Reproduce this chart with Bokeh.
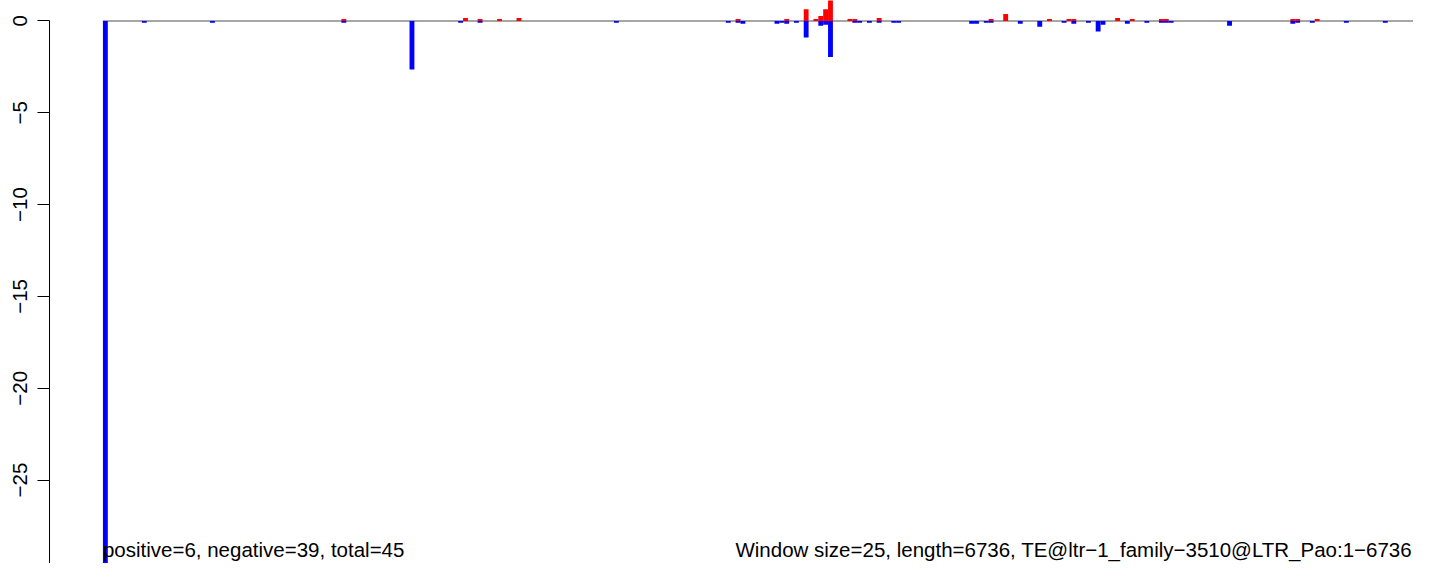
import math
from bokeh.plotting import figure
from bokeh.models import ColumnDataSource, FixedTicker, Range1d
from bokeh.core.properties import value
from bokeh.embed import file_html
from bokeh.resources import INLINE

# ---------------- data ----------------
window_size = 25
te_length = 6736
te_name = "TE@ltr\u22121_family\u22123510@LTR_Pao:1\u22126736"
n_positive = 6
n_negative = 39

# windows (0-based index) with a positive-strand (red) value
pos_windows = [49, 74, 77, 81, 85, 130, 140, 144, 146, 147, 148, 149, 153, 154,
               159, 182, 185, 194, 198, 199, 208, 211, 217, 218, 244, 245, 249]
pos_values = [0.10, 0.16, 0.10, 0.10, 0.16, 0.10, 0.10, 0.63, 0.10, 0.26, 0.63, 1.30, 0.10, 0.10,
              0.16, 0.10, 0.37, 0.10, 0.10, 0.10, 0.16, 0.10, 0.10, 0.10, 0.10, 0.10, 0.10]

# windows with a negative-strand (blue) value
neg_windows = [0, 8, 22, 49, 63, 73, 77, 105, 128, 130, 131, 138, 139, 140, 142, 144,
               147, 148, 149, 154, 155, 157, 159, 162, 163, 178, 179, 181, 182, 188,
               192, 197, 199, 202, 204, 205, 210, 214, 217, 218, 219, 231, 244, 245,
               248, 255, 263]
neg_values = [-30.0, -0.10, -0.10, -0.10, -2.65, -0.10, -0.10, -0.10, -0.10, -0.10, -0.16,
              -0.16, -0.10, -0.16, -0.10, -0.90, -0.26, -0.21, -1.96, -0.10, -0.10, -0.10,
              -0.10, -0.10, -0.10, -0.16, -0.16, -0.10, -0.10, -0.16, -0.32, -0.10, -0.16,
              -0.10, -0.58, -0.21, -0.16, -0.10, -0.10, -0.10, -0.10, -0.26, -0.16, -0.10,
              -0.10, -0.10, -0.10]

y_ticks = [0, -5, -10, -15, -20, -25, -30]

# ---------------- figure ----------------
n_windows = math.ceil(te_length / window_size)
FONT = "Liberation Sans"
X_END = 269.3

p = figure(width=1413, height=563, output_backend="svg", toolbar_location=None,
           x_range=Range1d(-10.98, X_END), y_range=Range1d(-29.54, 1.11),
           x_axis_location=None, min_border_left=49, min_border_right=0,
           min_border_top=0, min_border_bottom=0)
p.outline_line_color = None
p.grid.grid_line_color = None
p.background_fill_color = "white"
p.border_fill_color = "white"

ax = p.yaxis[0]
ax.ticker = FixedTicker(ticks=y_ticks)
ax.major_label_overrides = {t: (str(t).replace("-", "\u2212")) for t in y_ticks}
ax.bounds = (min(y_ticks), max(y_ticks))
ax.major_label_orientation = "vertical"
ax.major_tick_out = 12
ax.major_tick_in = 0
ax.minor_tick_out = 0
ax.minor_tick_in = 0
ax.axis_line_color = "black"
ax.major_tick_line_color = "black"
ax.major_label_text_font = FONT
ax.major_label_text_font_size = "20.5px"
ax.major_label_text_color = "black"
ax.major_label_standoff = 10

# zero line
p.line(x=[0, n_windows], y=[0, 0], line_color="#a6a6a6", line_width=2)

neg_src = ColumnDataSource(dict(left=neg_windows, right=[w + 1 for w in neg_windows],
                                top=[0] * len(neg_values), bottom=neg_values))
pos_src = ColumnDataSource(dict(left=pos_windows, right=[w + 1 for w in pos_windows],
                                top=pos_values, bottom=[0] * len(pos_values)))
p.quad(left="left", right="right", top="top", bottom="bottom", source=neg_src,
       fill_color="#0000ff", line_color=None)
p.quad(left="left", right="right", top="top", bottom="bottom", source=pos_src,
       fill_color="#ff0000", line_color=None)

left_txt = f"positive={n_positive}, negative={n_negative}, total={n_positive + n_negative}"
right_txt = f"Window size={window_size}, length={te_length}, {te_name}"
p.text(x=[0], y=[-29.4], text=[left_txt], text_font=value(FONT),
       text_font_size="20.5px", text_align="left", text_baseline="bottom",
       text_color="black")
p.text(x=[X_END - 0.3], y=[-29.4], text=[right_txt], text_font=value(FONT),
       text_font_size="20.5px", text_align="right", text_baseline="bottom",
       text_color="black")

open("out.html", "w").write(file_html(p, INLINE))
